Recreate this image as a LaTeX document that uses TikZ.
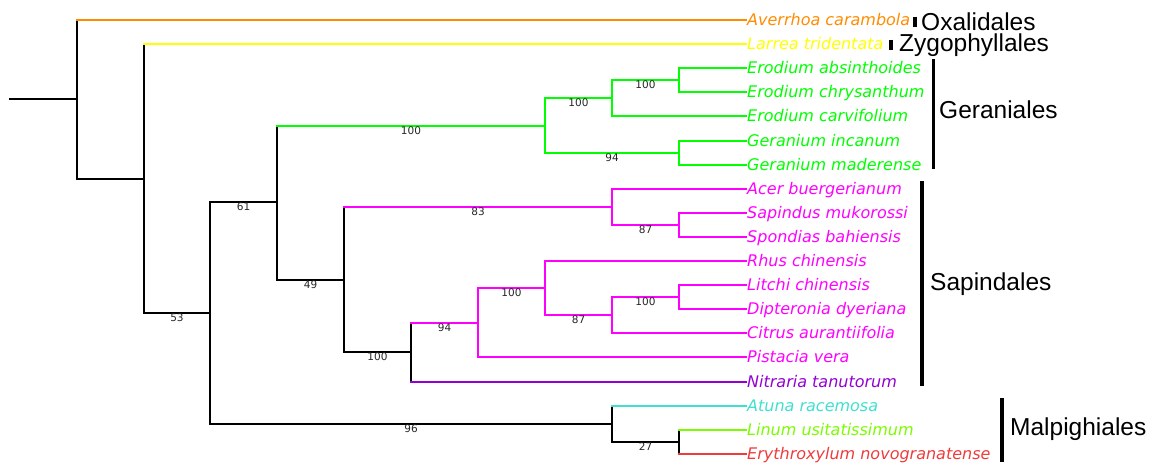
\documentclass[tikz,border=0pt]{standalone}
\usepackage{fontspec}
\setmainfont{DejaVu Sans}
\newfontfamily\cladefont{Liberation Sans}
\definecolor{cOra}{HTML}{FF8C00}
\definecolor{cYel}{HTML}{FFFF00}
\definecolor{cGrn}{HTML}{00FF00}
\definecolor{cMag}{HTML}{FF00FF}
\definecolor{cPur}{HTML}{9400D3}
\definecolor{cTur}{HTML}{40E0D0}
\definecolor{cLaw}{HTML}{7CFC00}
\definecolor{cRed}{HTML}{EE3B3B}
\tikzset{
  br/.style={line width=2pt, line cap=rect},
  leaf/.style={anchor=base west, inner sep=0pt, font=\fontsize{16}{16}\selectfont\itshape},
  sup/.style={anchor=base, inner sep=0pt, text=black!85, font=\fontsize{10.5}{10.5}\selectfont},
  clade/.style={anchor=base west, inner sep=0pt, font=\cladefont\fontsize{24.5}{24.5}\selectfont},
  bar/.style={line width=3.5pt, black}
}
\begin{document}
\begin{tikzpicture}[x=1pt,y=-1pt]
\useasboundingbox (0,0) rectangle (1151,463);
% leaf tips
\coordinate (t0) at (746,20);
\coordinate (t1) at (746,44);
\coordinate (t2) at (746,68);
\coordinate (t3) at (746,92);
\coordinate (t4) at (746,116);
\coordinate (t5) at (746,141);
\coordinate (t6) at (746,165);
\coordinate (t7) at (746,189);
\coordinate (t8) at (746,213);
\coordinate (t9) at (746,237);
\coordinate (t10) at (746,261);
\coordinate (t11) at (746,285);
\coordinate (t12) at (746,309);
\coordinate (t13) at (746,333);
\coordinate (t14) at (746,357);
\coordinate (t15) at (746,382);
\coordinate (t16) at (746,406);
\coordinate (t17) at (746,430);
\coordinate (t18) at (746,454);
% internal nodes
\coordinate (r0) at (10,99);
\coordinate (n1) at (77,99);
\coordinate (n2) at (144,179);
\coordinate (n3) at (210,313);
\coordinate (n4) at (277,202);
\coordinate (g1) at (545,126);
\coordinate (g2) at (612,98);
\coordinate (g3) at (679,80);
\coordinate (g4) at (679,153);
\coordinate (s1) at (344,280);
\coordinate (s2) at (612,207);
\coordinate (s3) at (679,225);
\coordinate (s4) at (411,352);
\coordinate (s5) at (478,323);
\coordinate (s6) at (545,288);
\coordinate (s7) at (612,315);
\coordinate (s8) at (679,297);
\coordinate (m1) at (612,424);
\coordinate (m2) at (679,442);

% root
\draw[br] (r0) -- (n1);
% verticals
\draw[br] (n1 |- t0) -- (n1 |- n2);
\draw[br] (n2 |- t1) -- (n2 |- n3);
\draw[br] (n3 |- n4) -- (n3 |- m1);
\draw[br] (n4 |- g1) -- (n4 |- s1);
\draw[br,cGrn] (g1 |- g2) -- (g1 |- g4);
\draw[br,cGrn] (g2 |- g3) -- (g2 |- t4);
\draw[br,cGrn] (g3 |- t2) -- (g3 |- t3);
\draw[br,cGrn] (g4 |- t5) -- (g4 |- t6);
\draw[br] (s1 |- s2) -- (s1 |- s4);
\draw[br,cMag] (s2 |- t7) -- (s2 |- s3);
\draw[br,cMag] (s3 |- t8) -- (s3 |- t9);
\draw[br] (s4 |- s5) -- (s4 |- t15);
\draw[br,cMag] (s5 |- s6) -- (s5 |- t14);
\draw[br,cMag] (s6 |- t10) -- (s6 |- s7);
\draw[br,cMag] (s7 |- s8) -- (s7 |- t13);
\draw[br,cMag] (s8 |- t11) -- (s8 |- t12);
\draw[br] (m1 |- t16) -- (m1 |- m2);
\draw[br] (m2 |- t17) -- (m2 |- t18);
% horizontals
\draw[br,cOra] (n1 |- t0) -- (t0);
\draw[br] (n1 |- n2) -- (n2);
\draw[br,cYel] (n2 |- t1) -- (t1);
\draw[br] (n2 |- n3) -- (n3);
\draw[br] (n3 |- n4) -- (n4);
\draw[br] (n3 |- m1) -- (m1);
\draw[br,cGrn] (n4 |- g1) -- (g1);
\draw[br] (n4 |- s1) -- (s1);
\draw[br,cGrn] (g1 |- g2) -- (g2);
\draw[br,cGrn] (g1 |- g4) -- (g4);
\draw[br,cGrn] (g2 |- g3) -- (g3);
\draw[br,cGrn] (g2 |- t4) -- (t4);
\draw[br,cGrn] (g3 |- t2) -- (t2);
\draw[br,cGrn] (g3 |- t3) -- (t3);
\draw[br,cGrn] (g4 |- t5) -- (t5);
\draw[br,cGrn] (g4 |- t6) -- (t6);
\draw[br,cMag] (s1 |- s2) -- (s2);
\draw[br] (s1 |- s4) -- (s4);
\draw[br,cMag] (s2 |- t7) -- (t7);
\draw[br,cMag] (s2 |- s3) -- (s3);
\draw[br,cMag] (s3 |- t8) -- (t8);
\draw[br,cMag] (s3 |- t9) -- (t9);
\draw[br,cMag] (s4 |- s5) -- (s5);
\draw[br,cPur] (s4 |- t15) -- (t15);
\draw[br,cMag] (s5 |- s6) -- (s6);
\draw[br,cMag] (s5 |- t14) -- (t14);
\draw[br,cMag] (s6 |- t10) -- (t10);
\draw[br,cMag] (s6 |- s7) -- (s7);
\draw[br,cMag] (s7 |- s8) -- (s8);
\draw[br,cMag] (s7 |- t13) -- (t13);
\draw[br,cMag] (s8 |- t11) -- (t11);
\draw[br,cMag] (s8 |- t12) -- (t12);
\draw[br,cTur] (m1 |- t16) -- (t16);
\draw[br] (m1 |- m2) -- (m2);
\draw[br,cLaw] (m2 |- t17) -- (t17);
\draw[br,cRed] (m2 |- t18) -- (t18);

% leaf labels
\node[leaf,text=cOra] (l0) at (747,25.8) {Averrhoa carambola};
\node[leaf,text=cYel] (l1) at (747,49.8) {Larrea tridentata};
\node[leaf,text=cGrn] (l2) at (747,73.8) {Erodium absinthoides};
\node[leaf,text=cGrn] (l3) at (747,97.8) {Erodium chrysanthum};
\node[leaf,text=cGrn] (l4) at (747,121.8) {Erodium carvifolium};
\node[leaf,text=cGrn] (l5) at (747,146.8) {Geranium incanum};
\node[leaf,text=cGrn] (l6) at (747,170.8) {Geranium maderense};
\node[leaf,text=cMag] (l7) at (747,194.8) {Acer buergerianum};
\node[leaf,text=cMag] (l8) at (747,218.8) {Sapindus mukorossi};
\node[leaf,text=cMag] (l9) at (747,242.8) {Spondias bahiensis};
\node[leaf,text=cMag] (l10) at (747,266.8) {Rhus chinensis};
\node[leaf,text=cMag] (l11) at (747,290.8) {Litchi chinensis};
\node[leaf,text=cMag] (l12) at (747,314.8) {Dipteronia dyeriana};
\node[leaf,text=cMag] (l13) at (747,338.8) {Citrus aurantiifolia};
\node[leaf,text=cMag] (l14) at (747,362.8) {Pistacia vera};
\node[leaf,text=cPur] (l15) at (747,387.8) {Nitraria tanutorum};
\node[leaf,text=cTur] (l16) at (747,411.8) {Atuna racemosa};
\node[leaf,text=cLaw] (l17) at (747,435.8) {Linum usitatissimum};
\node[leaf,text=cRed] (l18) at (747,459.8) {Erythroxylum novogranatense};

% support values
\node[sup] (v1) at (411,134.8) {100};
\node[sup] (v2) at (578.5,106.8) {100};
\node[sup] (v3) at (645.5,88.8) {100};
\node[sup] (v4) at (612,161.8) {94};
\node[sup] (v5) at (243.5,210.8) {61};
\node[sup] (v6) at (177,321.8) {53};
\node[sup] (v7) at (310.5,288.8) {49};
\node[sup] (v8) at (478,215.8) {83};
\node[sup] (v9) at (645.5,233.8) {87};
\node[sup] (v10) at (377.5,360.8) {100};
\node[sup] (v11) at (444.5,331.8) {94};
\node[sup] (v12) at (511.5,296.8) {100};
\node[sup] (v13) at (578.5,323.8) {87};
\node[sup] (v14) at (645.5,305.8) {100};
\node[sup] (v15) at (411,432.8) {96};
\node[sup] (v16) at (645.5,450.8) {27};

% clade bars and names
\draw[bar] (915,16.5) -- (915,27);
\node[clade] (c1) at (921,30) {Oxalidales};
\draw[bar] (891,39.5) -- (891,50);
\node[clade] (c2) at (899,51) {Zygophyllales};
\draw[bar] (933.5,59) -- (933.5,169);
\node[clade] (c3) at (939,118) {Geraniales};
\draw[bar] (922,181) -- (922,386);
\node[clade] (c4) at (930,290) {Sapindales};
\draw[bar] (1002,398) -- (1002,461.5);
\node[clade] (c5) at (1010,435) {Malpighiales};
\end{tikzpicture}
\end{document}
